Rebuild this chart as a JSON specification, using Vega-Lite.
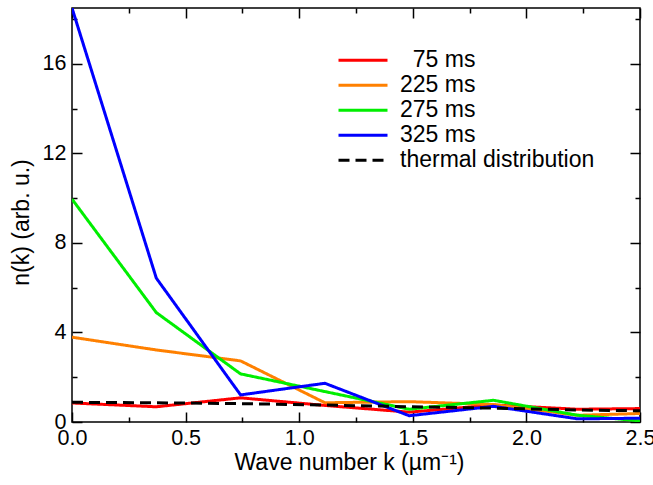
{
  "$schema": "https://vega.github.io/schema/vega-lite/v6.json",
  "width": 568,
  "height": 414,
  "autosize": {"type": "none"},
  "padding": {"left": 72, "top": 8, "right": 13, "bottom": 63},
  "background": "white",
  "config": {
    "font": "Liberation Sans",
    "view": {"stroke": "black", "strokeWidth": 1.5},
    "axis": {
      "domain": false,
      "grid": false,
      "tickColor": "black",
      "tickWidth": 1.5,
      "labelColor": "black",
      "labelFont": "Liberation Sans",
      "labelFontSize": 21.5,
      "titleColor": "black",
      "titleFont": "Liberation Sans",
      "titleFontSize": 23,
      "titleFontWeight": "normal"
    },
    "legend": {
      "labelFont": "Liberation Sans",
      "labelFontSize": 23,
      "labelColor": "black",
      "labelLimit": 400
    }
  },
  "datasets": {
    "curves": [
      {"k": 0, "n": 0.85, "series": "75 ms"},
      {"k": 0.371, "n": 0.68, "series": "75 ms"},
      {"k": 0.742, "n": 1.08, "series": "75 ms"},
      {"k": 1.113, "n": 0.74, "series": "75 ms"},
      {"k": 1.484, "n": 0.44, "series": "75 ms"},
      {"k": 1.855, "n": 0.76, "series": "75 ms"},
      {"k": 2.226, "n": 0.57, "series": "75 ms"},
      {"k": 2.5, "n": 0.6, "series": "75 ms"},
      {"k": 0, "n": 3.79, "series": "225 ms"},
      {"k": 0.371, "n": 3.22, "series": "225 ms"},
      {"k": 0.742, "n": 2.73, "series": "225 ms"},
      {"k": 1.113, "n": 0.86, "series": "225 ms"},
      {"k": 1.484, "n": 0.91, "series": "225 ms"},
      {"k": 1.855, "n": 0.78, "series": "225 ms"},
      {"k": 2.226, "n": 0.3, "series": "225 ms"},
      {"k": 2.5, "n": 0.38, "series": "225 ms"},
      {"k": 0, "n": 9.96, "series": "275 ms"},
      {"k": 0.371, "n": 4.89, "series": "275 ms"},
      {"k": 0.742, "n": 2.15, "series": "275 ms"},
      {"k": 1.113, "n": 1.36, "series": "275 ms"},
      {"k": 1.484, "n": 0.57, "series": "275 ms"},
      {"k": 1.855, "n": 0.97, "series": "275 ms"},
      {"k": 2.226, "n": 0.3, "series": "275 ms"},
      {"k": 2.5, "n": 0.05, "series": "275 ms"},
      {"k": 0, "n": 18.5, "series": "325 ms"},
      {"k": 0.371, "n": 6.43, "series": "325 ms"},
      {"k": 0.742, "n": 1.21, "series": "325 ms"},
      {"k": 1.113, "n": 1.73, "series": "325 ms"},
      {"k": 1.484, "n": 0.28, "series": "325 ms"},
      {"k": 1.855, "n": 0.7, "series": "325 ms"},
      {"k": 2.226, "n": 0.14, "series": "325 ms"},
      {"k": 2.5, "n": 0.17, "series": "325 ms"},
      {"k": 0, "n": 0.88, "series": "thermal distribution"},
      {"k": 0.371, "n": 0.86, "series": "thermal distribution"},
      {"k": 0.742, "n": 0.82, "series": "thermal distribution"},
      {"k": 1.113, "n": 0.76, "series": "thermal distribution"},
      {"k": 1.484, "n": 0.68, "series": "thermal distribution"},
      {"k": 1.855, "n": 0.62, "series": "thermal distribution"},
      {"k": 2.226, "n": 0.54, "series": "thermal distribution"},
      {"k": 2.5, "n": 0.5, "series": "thermal distribution"}
    ]
  },
  "data": {"name": "curves"},
  "layer": [
    {
      "mark": {"type": "line", "strokeWidth": 3, "clip": true},
      "encoding": {
        "x": {
          "field": "k", "type": "quantitative",
          "scale": {"domain": [0, 2.5], "nice": false, "zero": false},
          "axis": {
            "orient": "bottom",
            "values": [0, 0.5, 1, 1.5, 2, 2.5],
            "format": ".1f",
            "tickSize": -10,
            "labelPadding": 15,
            "labelFlush": false,
            "title": "Wave number k (µm⁻¹)",
            "titleX": 277,
            "titleY": 47,
            "titleBaseline": "alphabetic"
          }
        },
        "y": {
          "field": "n", "type": "quantitative",
          "scale": {"domain": [0, 18.5], "nice": false},
          "axis": {
            "orient": "left",
            "values": [0, 4, 8, 12, 16],
            "tickSize": -10,
            "labelPadding": 16,
            "labelFlush": false,
            "title": "n(k) (arb. u.)",
            "titleX": -44,
            "titleY": 214,
            "titleBaseline": "alphabetic"
          }
        },
        "color": {
          "field": "series", "type": "nominal",
          "scale": {
            "domain": ["75 ms", "225 ms", "275 ms", "325 ms", "thermal distribution"],
            "range": ["#ff0000", "#ff8000", "#00ee00", "#0000ff", "#000000"]
          },
          "legend": {
            "title": null,
            "orient": "none",
            "legendX": 265,
            "legendY": 40,
            "padding": 0,
            "symbolType": "stroke",
            "symbolSize": 2401,
            "symbolStrokeWidth": 3,
            "clipHeight": 24.6,
            "rowPadding": 0,
            "labelOffset": 11,
            "labelExpr": "datum.value === '75 ms' ? '\u200b\u00a0\u00a075 ms' : datum.label"
          }
        },
        "strokeDash": {
          "field": "series", "type": "nominal",
          "scale": {
            "domain": ["75 ms", "225 ms", "275 ms", "325 ms", "thermal distribution"],
            "range": [[1, 0], [1, 0], [1, 0], [1, 0], [11, 6]]
          },
          "legend": {
            "title": null,
            "orient": "none",
            "legendX": 265,
            "legendY": 40,
            "padding": 0,
            "symbolType": "stroke",
            "symbolSize": 2401,
            "symbolStrokeWidth": 3,
            "clipHeight": 24.6,
            "rowPadding": 0,
            "labelOffset": 11,
            "labelExpr": "datum.value === '75 ms' ? '\u200b\u00a0\u00a075 ms' : datum.label"
          }
        }
      }
    },
    {
      "mark": {"type": "point", "opacity": 0},
      "encoding": {
        "x": {"field": "k", "type": "quantitative",
          "axis": {"orient": "bottom", "values": [0.25, 0.75, 1.25, 1.75, 2.25], "tickSize": -5, "labels": false, "title": null}},
        "y": {"field": "n", "type": "quantitative",
          "axis": {"orient": "left", "values": [2, 6, 10, 14, 18], "tickSize": -5, "labels": false, "title": null}}
      }
    },
    {
      "mark": {"type": "point", "opacity": 0},
      "encoding": {
        "x": {"field": "k", "type": "quantitative",
          "axis": {"orient": "top", "values": [0, 0.5, 1, 1.5, 2, 2.5], "tickSize": -10, "labels": false, "title": null}},
        "y": {"field": "n", "type": "quantitative",
          "axis": {"orient": "right", "values": [0, 4, 8, 12, 16], "tickSize": -10, "labels": false, "title": null}}
      }
    },
    {
      "mark": {"type": "point", "opacity": 0},
      "encoding": {
        "x": {"field": "k", "type": "quantitative",
          "axis": {"orient": "top", "values": [0.25, 0.75, 1.25, 1.75, 2.25], "tickSize": -5, "labels": false, "title": null}},
        "y": {"field": "n", "type": "quantitative",
          "axis": {"orient": "right", "values": [2, 6, 10, 14, 18], "tickSize": -5, "labels": false, "title": null}}
      }
    }
  ],
  "resolve": {"axis": {"x": "independent", "y": "independent"}}
}
